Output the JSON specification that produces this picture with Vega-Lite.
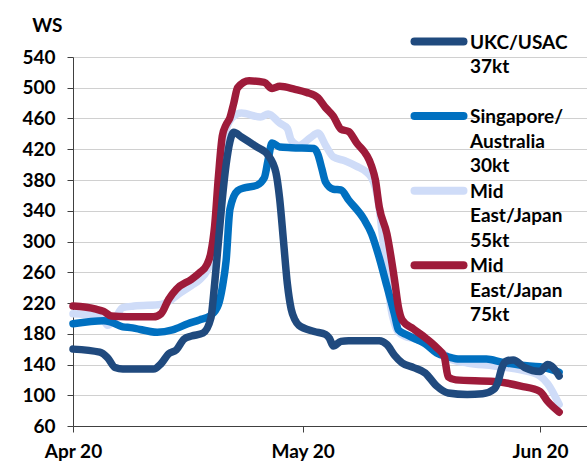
{
  "$schema": "https://vega.github.io/schema/vega-lite/v6.json",
  "width": 514,
  "height": 369,
  "autosize": {"type": "none"},
  "padding": {"left": 73, "top": 57, "right": 0, "bottom": 40},
  "background": "white",
  "data": {"values": [
    {"s": "Mid East/Japan 55kt", "t": "2020-04-01T00:00", "v": 206},
    {"s": "Mid East/Japan 55kt", "t": "2020-04-03T12:00", "v": 204},
    {"s": "Mid East/Japan 55kt", "t": "2020-04-05T00:00", "v": 198},
    {"s": "Mid East/Japan 55kt", "t": "2020-04-05T12:00", "v": 191},
    {"s": "Mid East/Japan 55kt", "t": "2020-04-06T12:00", "v": 200},
    {"s": "Mid East/Japan 55kt", "t": "2020-04-07T12:00", "v": 214},
    {"s": "Mid East/Japan 55kt", "t": "2020-04-09T00:00", "v": 216},
    {"s": "Mid East/Japan 55kt", "t": "2020-04-12T12:00", "v": 218},
    {"s": "Mid East/Japan 55kt", "t": "2020-04-13T12:00", "v": 222},
    {"s": "Mid East/Japan 55kt", "t": "2020-04-15T00:00", "v": 233},
    {"s": "Mid East/Japan 55kt", "t": "2020-04-16T12:00", "v": 243},
    {"s": "Mid East/Japan 55kt", "t": "2020-04-17T12:00", "v": 250},
    {"s": "Mid East/Japan 55kt", "t": "2020-04-18T12:00", "v": 262},
    {"s": "Mid East/Japan 55kt", "t": "2020-04-19T12:00", "v": 290},
    {"s": "Mid East/Japan 55kt", "t": "2020-04-20T00:00", "v": 340},
    {"s": "Mid East/Japan 55kt", "t": "2020-04-20T12:00", "v": 410},
    {"s": "Mid East/Japan 55kt", "t": "2020-04-21T00:00", "v": 445},
    {"s": "Mid East/Japan 55kt", "t": "2020-04-22T00:00", "v": 463},
    {"s": "Mid East/Japan 55kt", "t": "2020-04-23T00:00", "v": 467},
    {"s": "Mid East/Japan 55kt", "t": "2020-04-25T12:00", "v": 462},
    {"s": "Mid East/Japan 55kt", "t": "2020-04-26T12:00", "v": 466},
    {"s": "Mid East/Japan 55kt", "t": "2020-04-28T00:00", "v": 454},
    {"s": "Mid East/Japan 55kt", "t": "2020-04-29T00:00", "v": 447},
    {"s": "Mid East/Japan 55kt", "t": "2020-04-29T12:00", "v": 432},
    {"s": "Mid East/Japan 55kt", "t": "2020-04-30T12:00", "v": 425},
    {"s": "Mid East/Japan 55kt", "t": "2020-05-02T00:00", "v": 435},
    {"s": "Mid East/Japan 55kt", "t": "2020-05-03T00:00", "v": 441},
    {"s": "Mid East/Japan 55kt", "t": "2020-05-04T00:00", "v": 425},
    {"s": "Mid East/Japan 55kt", "t": "2020-05-05T00:00", "v": 410},
    {"s": "Mid East/Japan 55kt", "t": "2020-05-06T12:00", "v": 405},
    {"s": "Mid East/Japan 55kt", "t": "2020-05-08T00:00", "v": 398},
    {"s": "Mid East/Japan 55kt", "t": "2020-05-09T12:00", "v": 389},
    {"s": "Mid East/Japan 55kt", "t": "2020-05-10T00:00", "v": 383},
    {"s": "Mid East/Japan 55kt", "t": "2020-05-10T12:00", "v": 370},
    {"s": "Mid East/Japan 55kt", "t": "2020-05-11T00:00", "v": 343},
    {"s": "Mid East/Japan 55kt", "t": "2020-05-11T12:00", "v": 300},
    {"s": "Mid East/Japan 55kt", "t": "2020-05-12T00:00", "v": 255},
    {"s": "Mid East/Japan 55kt", "t": "2020-05-12T12:00", "v": 215},
    {"s": "Mid East/Japan 55kt", "t": "2020-05-13T00:00", "v": 193},
    {"s": "Mid East/Japan 55kt", "t": "2020-05-13T12:00", "v": 182},
    {"s": "Mid East/Japan 55kt", "t": "2020-05-14T12:00", "v": 176},
    {"s": "Mid East/Japan 55kt", "t": "2020-05-15T12:00", "v": 174},
    {"s": "Mid East/Japan 55kt", "t": "2020-05-17T00:00", "v": 168},
    {"s": "Mid East/Japan 55kt", "t": "2020-05-19T00:00", "v": 157},
    {"s": "Mid East/Japan 55kt", "t": "2020-05-20T12:00", "v": 146},
    {"s": "Mid East/Japan 55kt", "t": "2020-05-22T12:00", "v": 142},
    {"s": "Mid East/Japan 55kt", "t": "2020-05-26T00:00", "v": 138},
    {"s": "Mid East/Japan 55kt", "t": "2020-05-29T12:00", "v": 133},
    {"s": "Mid East/Japan 55kt", "t": "2020-06-01T00:00", "v": 125},
    {"s": "Mid East/Japan 55kt", "t": "2020-06-02T00:00", "v": 115},
    {"s": "Mid East/Japan 55kt", "t": "2020-06-03T12:00", "v": 88},

    {"s": "Singapore/Australia 30kt", "t": "2020-04-01T00:00", "v": 193},
    {"s": "Singapore/Australia 30kt", "t": "2020-04-05T00:00", "v": 197},
    {"s": "Singapore/Australia 30kt", "t": "2020-04-06T00:00", "v": 195},
    {"s": "Singapore/Australia 30kt", "t": "2020-04-07T12:00", "v": 189},
    {"s": "Singapore/Australia 30kt", "t": "2020-04-08T12:00", "v": 188},
    {"s": "Singapore/Australia 30kt", "t": "2020-04-12T00:00", "v": 182},
    {"s": "Singapore/Australia 30kt", "t": "2020-04-14T00:00", "v": 185},
    {"s": "Singapore/Australia 30kt", "t": "2020-04-16T00:00", "v": 193},
    {"s": "Singapore/Australia 30kt", "t": "2020-04-17T12:00", "v": 198},
    {"s": "Singapore/Australia 30kt", "t": "2020-04-19T00:00", "v": 204},
    {"s": "Singapore/Australia 30kt", "t": "2020-04-20T00:00", "v": 218},
    {"s": "Singapore/Australia 30kt", "t": "2020-04-20T12:00", "v": 240},
    {"s": "Singapore/Australia 30kt", "t": "2020-04-21T00:00", "v": 275},
    {"s": "Singapore/Australia 30kt", "t": "2020-04-21T12:00", "v": 342},
    {"s": "Singapore/Australia 30kt", "t": "2020-04-22T12:00", "v": 366},
    {"s": "Singapore/Australia 30kt", "t": "2020-04-23T12:00", "v": 370},
    {"s": "Singapore/Australia 30kt", "t": "2020-04-25T00:00", "v": 373},
    {"s": "Singapore/Australia 30kt", "t": "2020-04-26T00:00", "v": 383},
    {"s": "Singapore/Australia 30kt", "t": "2020-04-26T12:00", "v": 407},
    {"s": "Singapore/Australia 30kt", "t": "2020-04-27T00:00", "v": 428},
    {"s": "Singapore/Australia 30kt", "t": "2020-04-28T00:00", "v": 423},
    {"s": "Singapore/Australia 30kt", "t": "2020-04-29T12:00", "v": 422},
    {"s": "Singapore/Australia 30kt", "t": "2020-05-02T12:00", "v": 421},
    {"s": "Singapore/Australia 30kt", "t": "2020-05-03T00:00", "v": 413},
    {"s": "Singapore/Australia 30kt", "t": "2020-05-03T12:00", "v": 395},
    {"s": "Singapore/Australia 30kt", "t": "2020-05-04T00:00", "v": 377},
    {"s": "Singapore/Australia 30kt", "t": "2020-05-05T00:00", "v": 368},
    {"s": "Singapore/Australia 30kt", "t": "2020-05-06T00:00", "v": 367},
    {"s": "Singapore/Australia 30kt", "t": "2020-05-07T00:00", "v": 354},
    {"s": "Singapore/Australia 30kt", "t": "2020-05-09T00:00", "v": 329},
    {"s": "Singapore/Australia 30kt", "t": "2020-05-10T00:00", "v": 310},
    {"s": "Singapore/Australia 30kt", "t": "2020-05-11T00:00", "v": 279},
    {"s": "Singapore/Australia 30kt", "t": "2020-05-12T00:00", "v": 242},
    {"s": "Singapore/Australia 30kt", "t": "2020-05-13T00:00", "v": 205},
    {"s": "Singapore/Australia 30kt", "t": "2020-05-13T12:00", "v": 185},
    {"s": "Singapore/Australia 30kt", "t": "2020-05-14T12:00", "v": 179},
    {"s": "Singapore/Australia 30kt", "t": "2020-05-16T00:00", "v": 172},
    {"s": "Singapore/Australia 30kt", "t": "2020-05-17T00:00", "v": 167},
    {"s": "Singapore/Australia 30kt", "t": "2020-05-18T12:00", "v": 155},
    {"s": "Singapore/Australia 30kt", "t": "2020-05-20T00:00", "v": 150},
    {"s": "Singapore/Australia 30kt", "t": "2020-05-21T12:00", "v": 147},
    {"s": "Singapore/Australia 30kt", "t": "2020-05-25T00:00", "v": 147},
    {"s": "Singapore/Australia 30kt", "t": "2020-05-27T00:00", "v": 143},
    {"s": "Singapore/Australia 30kt", "t": "2020-05-29T12:00", "v": 139},
    {"s": "Singapore/Australia 30kt", "t": "2020-06-01T00:00", "v": 137},
    {"s": "Singapore/Australia 30kt", "t": "2020-06-03T12:00", "v": 130},

    {"s": "Mid East/Japan 75kt", "t": "2020-04-01T00:00", "v": 216},
    {"s": "Mid East/Japan 75kt", "t": "2020-04-04T00:00", "v": 212},
    {"s": "Mid East/Japan 75kt", "t": "2020-04-05T00:00", "v": 209},
    {"s": "Mid East/Japan 75kt", "t": "2020-04-06T00:00", "v": 203},
    {"s": "Mid East/Japan 75kt", "t": "2020-04-08T00:00", "v": 202},
    {"s": "Mid East/Japan 75kt", "t": "2020-04-11T12:00", "v": 202},
    {"s": "Mid East/Japan 75kt", "t": "2020-04-12T12:00", "v": 206},
    {"s": "Mid East/Japan 75kt", "t": "2020-04-13T12:00", "v": 225},
    {"s": "Mid East/Japan 75kt", "t": "2020-04-14T12:00", "v": 238},
    {"s": "Mid East/Japan 75kt", "t": "2020-04-16T12:00", "v": 251},
    {"s": "Mid East/Japan 75kt", "t": "2020-04-17T12:00", "v": 259},
    {"s": "Mid East/Japan 75kt", "t": "2020-04-18T12:00", "v": 270},
    {"s": "Mid East/Japan 75kt", "t": "2020-04-19T00:00", "v": 285},
    {"s": "Mid East/Japan 75kt", "t": "2020-04-19T12:00", "v": 320},
    {"s": "Mid East/Japan 75kt", "t": "2020-04-20T00:00", "v": 385},
    {"s": "Mid East/Japan 75kt", "t": "2020-04-20T12:00", "v": 437},
    {"s": "Mid East/Japan 75kt", "t": "2020-04-21T00:00", "v": 452},
    {"s": "Mid East/Japan 75kt", "t": "2020-04-21T12:00", "v": 461},
    {"s": "Mid East/Japan 75kt", "t": "2020-04-22T00:00", "v": 480},
    {"s": "Mid East/Japan 75kt", "t": "2020-04-22T12:00", "v": 500},
    {"s": "Mid East/Japan 75kt", "t": "2020-04-24T00:00", "v": 509},
    {"s": "Mid East/Japan 75kt", "t": "2020-04-26T00:00", "v": 507},
    {"s": "Mid East/Japan 75kt", "t": "2020-04-27T00:00", "v": 499},
    {"s": "Mid East/Japan 75kt", "t": "2020-04-28T00:00", "v": 502},
    {"s": "Mid East/Japan 75kt", "t": "2020-04-30T00:00", "v": 498},
    {"s": "Mid East/Japan 75kt", "t": "2020-05-01T12:00", "v": 494},
    {"s": "Mid East/Japan 75kt", "t": "2020-05-03T00:00", "v": 487},
    {"s": "Mid East/Japan 75kt", "t": "2020-05-04T00:00", "v": 474},
    {"s": "Mid East/Japan 75kt", "t": "2020-05-05T00:00", "v": 463},
    {"s": "Mid East/Japan 75kt", "t": "2020-05-06T00:00", "v": 446},
    {"s": "Mid East/Japan 75kt", "t": "2020-05-07T00:00", "v": 443},
    {"s": "Mid East/Japan 75kt", "t": "2020-05-08T00:00", "v": 429},
    {"s": "Mid East/Japan 75kt", "t": "2020-05-10T00:00", "v": 398},
    {"s": "Mid East/Japan 75kt", "t": "2020-05-10T12:00", "v": 380},
    {"s": "Mid East/Japan 75kt", "t": "2020-05-11T00:00", "v": 345},
    {"s": "Mid East/Japan 75kt", "t": "2020-05-12T00:00", "v": 310},
    {"s": "Mid East/Japan 75kt", "t": "2020-05-13T00:00", "v": 250},
    {"s": "Mid East/Japan 75kt", "t": "2020-05-13T12:00", "v": 215},
    {"s": "Mid East/Japan 75kt", "t": "2020-05-14T00:00", "v": 198},
    {"s": "Mid East/Japan 75kt", "t": "2020-05-15T12:00", "v": 186},
    {"s": "Mid East/Japan 75kt", "t": "2020-05-17T00:00", "v": 175},
    {"s": "Mid East/Japan 75kt", "t": "2020-05-18T12:00", "v": 162},
    {"s": "Mid East/Japan 75kt", "t": "2020-05-19T12:00", "v": 150},
    {"s": "Mid East/Japan 75kt", "t": "2020-05-20T00:00", "v": 124},
    {"s": "Mid East/Japan 75kt", "t": "2020-05-21T00:00", "v": 120},
    {"s": "Mid East/Japan 75kt", "t": "2020-05-26T00:00", "v": 118},
    {"s": "Mid East/Japan 75kt", "t": "2020-05-29T12:00", "v": 112},
    {"s": "Mid East/Japan 75kt", "t": "2020-06-01T00:00", "v": 105},
    {"s": "Mid East/Japan 75kt", "t": "2020-06-02T00:00", "v": 92},
    {"s": "Mid East/Japan 75kt", "t": "2020-06-03T12:00", "v": 78},

    {"s": "UKC/USAC 37kt", "t": "2020-04-01T00:00", "v": 160},
    {"s": "UKC/USAC 37kt", "t": "2020-04-04T12:00", "v": 156},
    {"s": "UKC/USAC 37kt", "t": "2020-04-05T12:00", "v": 149},
    {"s": "UKC/USAC 37kt", "t": "2020-04-06T12:00", "v": 136},
    {"s": "UKC/USAC 37kt", "t": "2020-04-07T12:00", "v": 134},
    {"s": "UKC/USAC 37kt", "t": "2020-04-11T12:00", "v": 134},
    {"s": "UKC/USAC 37kt", "t": "2020-04-12T12:00", "v": 141},
    {"s": "UKC/USAC 37kt", "t": "2020-04-13T12:00", "v": 154},
    {"s": "UKC/USAC 37kt", "t": "2020-04-14T12:00", "v": 159},
    {"s": "UKC/USAC 37kt", "t": "2020-04-15T12:00", "v": 173},
    {"s": "UKC/USAC 37kt", "t": "2020-04-16T12:00", "v": 177},
    {"s": "UKC/USAC 37kt", "t": "2020-04-18T00:00", "v": 181},
    {"s": "UKC/USAC 37kt", "t": "2020-04-19T00:00", "v": 200},
    {"s": "UKC/USAC 37kt", "t": "2020-04-19T12:00", "v": 245},
    {"s": "UKC/USAC 37kt", "t": "2020-04-20T00:00", "v": 300},
    {"s": "UKC/USAC 37kt", "t": "2020-04-20T12:00", "v": 355},
    {"s": "UKC/USAC 37kt", "t": "2020-04-21T00:00", "v": 400},
    {"s": "UKC/USAC 37kt", "t": "2020-04-21T12:00", "v": 430},
    {"s": "UKC/USAC 37kt", "t": "2020-04-22T00:00", "v": 442},
    {"s": "UKC/USAC 37kt", "t": "2020-04-23T00:00", "v": 436},
    {"s": "UKC/USAC 37kt", "t": "2020-04-25T00:00", "v": 423},
    {"s": "UKC/USAC 37kt", "t": "2020-04-26T12:00", "v": 412},
    {"s": "UKC/USAC 37kt", "t": "2020-04-27T12:00", "v": 390},
    {"s": "UKC/USAC 37kt", "t": "2020-04-28T00:00", "v": 355},
    {"s": "UKC/USAC 37kt", "t": "2020-04-28T12:00", "v": 300},
    {"s": "UKC/USAC 37kt", "t": "2020-04-29T00:00", "v": 245},
    {"s": "UKC/USAC 37kt", "t": "2020-04-29T12:00", "v": 212},
    {"s": "UKC/USAC 37kt", "t": "2020-04-30T00:00", "v": 198},
    {"s": "UKC/USAC 37kt", "t": "2020-04-30T12:00", "v": 191},
    {"s": "UKC/USAC 37kt", "t": "2020-05-02T12:00", "v": 183},
    {"s": "UKC/USAC 37kt", "t": "2020-05-04T00:00", "v": 179},
    {"s": "UKC/USAC 37kt", "t": "2020-05-04T12:00", "v": 174},
    {"s": "UKC/USAC 37kt", "t": "2020-05-05T00:00", "v": 164},
    {"s": "UKC/USAC 37kt", "t": "2020-05-06T00:00", "v": 170},
    {"s": "UKC/USAC 37kt", "t": "2020-05-07T00:00", "v": 171},
    {"s": "UKC/USAC 37kt", "t": "2020-05-11T00:00", "v": 171},
    {"s": "UKC/USAC 37kt", "t": "2020-05-12T00:00", "v": 166},
    {"s": "UKC/USAC 37kt", "t": "2020-05-13T00:00", "v": 152},
    {"s": "UKC/USAC 37kt", "t": "2020-05-14T00:00", "v": 142},
    {"s": "UKC/USAC 37kt", "t": "2020-05-15T12:00", "v": 136},
    {"s": "UKC/USAC 37kt", "t": "2020-05-17T00:00", "v": 129},
    {"s": "UKC/USAC 37kt", "t": "2020-05-18T12:00", "v": 112},
    {"s": "UKC/USAC 37kt", "t": "2020-05-20T00:00", "v": 103},
    {"s": "UKC/USAC 37kt", "t": "2020-05-22T12:00", "v": 101},
    {"s": "UKC/USAC 37kt", "t": "2020-05-24T12:00", "v": 102},
    {"s": "UKC/USAC 37kt", "t": "2020-05-26T00:00", "v": 108},
    {"s": "UKC/USAC 37kt", "t": "2020-05-26T12:00", "v": 117},
    {"s": "UKC/USAC 37kt", "t": "2020-05-27T00:00", "v": 135},
    {"s": "UKC/USAC 37kt", "t": "2020-05-27T12:00", "v": 144},
    {"s": "UKC/USAC 37kt", "t": "2020-05-28T12:00", "v": 146},
    {"s": "UKC/USAC 37kt", "t": "2020-05-30T00:00", "v": 136},
    {"s": "UKC/USAC 37kt", "t": "2020-06-01T00:00", "v": 131},
    {"s": "UKC/USAC 37kt", "t": "2020-06-02T00:00", "v": 140},
    {"s": "UKC/USAC 37kt", "t": "2020-06-02T12:00", "v": 138},
    {"s": "UKC/USAC 37kt", "t": "2020-06-03T12:00", "v": 125}
  ]},
  "encoding": {
    "x": {
      "field": "t", "type": "temporal",
      "scale": {"domain": [{"year": 2020, "month": "apr", "date": 1}, {"year": 2020, "month": "jun", "date": 7, "hours": 3, "minutes": 20}]},
      "axis": {
        "title": null, "format": "%b %y", "grid": false,
        "values": [{"year": 2020, "month": "apr", "date": 1}, {"year": 2020, "month": "may", "date": 1}, {"year": 2020, "month": "jun", "date": 1}],
        "labelFont": "Lato", "labelFontSize": 19, "labelFontWeight": "bold", "labelColor": "#000",
        "labelPadding": 10, "tickSize": 6, "tickColor": "#404040", "domainColor": "#404040", "labelFlush": false
      }
    },
    "y": {
      "field": "v", "type": "quantitative",
      "scale": {"domain": [60, 540], "nice": false, "zero": false},
      "axis": {
        "title": "WS", "titleAngle": 0, "titleAlign": "right", "titleBaseline": "alphabetic",
        "titleX": -11, "titleY": -26, "titleFont": "Lato", "titleFontSize": 19, "titleFontWeight": "bold", "titleColor": "#000",
        "values": [60, 100, 140, 180, 220, 260, 300, 340, 380, 420, 460, 500, 540],
        "labelFont": "Lato", "labelFontSize": 19, "labelFontWeight": "bold", "labelColor": "#000",
        "labelPadding": 12, "tickSize": 6, "tickColor": "#404040", "domainColor": "#404040",
        "grid": true, "gridColor": "#d0d0d0", "gridWidth": 1
      }
    },
    "color": {
      "field": "s", "type": "nominal",
      "scale": {
        "domain": ["UKC/USAC 37kt", "Singapore/Australia 30kt", "Mid East/Japan 55kt", "Mid East/Japan 75kt"],
        "range": ["#204a7e", "#0070c0", "#cfdcf8", "#9e1b3a"]
      },
      "legend": {
        "title": null, "orient": "none", "legendX": 356.5, "legendY": -25,
        "symbolType": "M-5,0H5", "symbolSize": 96, "symbolStrokeWidth": 8,
        "labelFont": "Lato", "labelFontSize": 19, "labelFontWeight": "bold", "labelColor": "#000",
        "labelLimit": 300, "labelOffset": 21.5, "rowPadding": -2.4, "padding": 0,
        "labelBaseline": "alphabetic",
        "labelExpr": "datum.label == 'UKC/USAC 37kt' ? ['UKC/USAC', '37kt', ''] : datum.label == 'Singapore/Australia 30kt' ? ['Singapore/', 'Australia', '30kt'] : datum.label == 'Mid East/Japan 55kt' ? ['Mid', 'East/Japan', '55kt'] : ['Mid', 'East/Japan', '75kt']",
        "encode": {
          "symbols": {"update": {"strokeCap": {"value": "round"}}},
          "labels": {"update": {"lineHeight": {"value": 24.5}, "dy": {"value": 7}}}
        }
      }
    }
  },
  "layer": [
    {"transform": [{"filter": "datum.s == 'Mid East/Japan 55kt'"}], "mark": {"type": "line", "strokeWidth": 7.5, "strokeCap": "round", "strokeJoin": "round", "interpolate": "monotone"}},
    {"transform": [{"filter": "datum.s == 'Singapore/Australia 30kt'"}], "mark": {"type": "line", "strokeWidth": 7.5, "strokeCap": "round", "strokeJoin": "round", "interpolate": "monotone"}},
    {"transform": [{"filter": "datum.s == 'Mid East/Japan 75kt'"}], "mark": {"type": "line", "strokeWidth": 7.5, "strokeCap": "round", "strokeJoin": "round", "interpolate": "monotone"}},
    {"transform": [{"filter": "datum.s == 'UKC/USAC 37kt'"}], "mark": {"type": "line", "strokeWidth": 7.5, "strokeCap": "round", "strokeJoin": "round", "interpolate": "monotone"}}
  ],
  "config": {"view": {"stroke": null}}
}
